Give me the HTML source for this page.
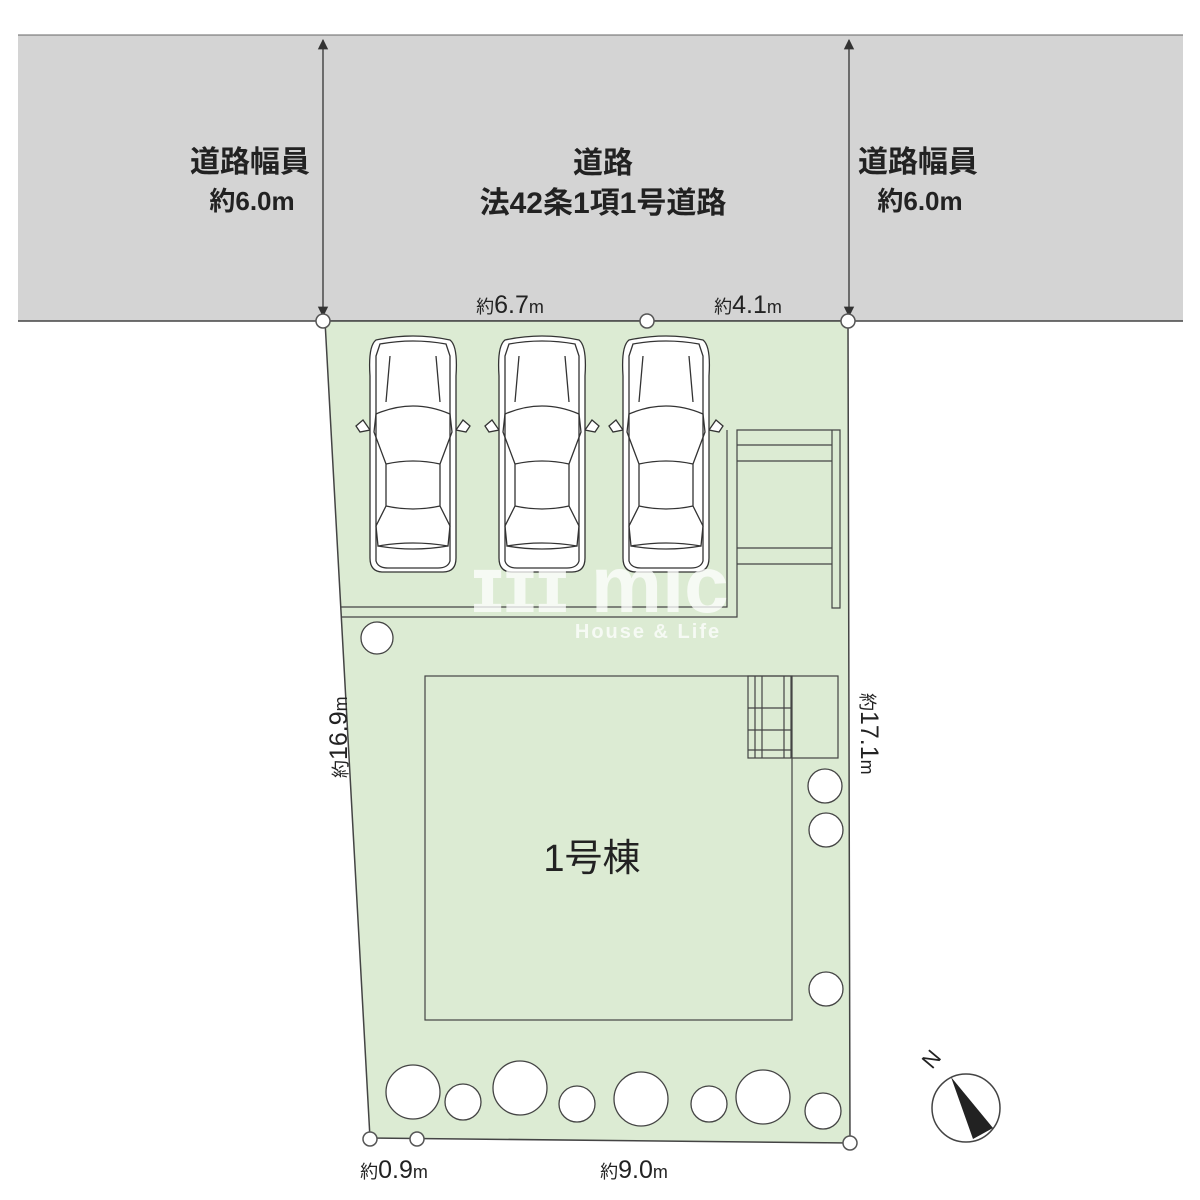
<!DOCTYPE html>
<html><head><meta charset="utf-8"><style>
html,body{margin:0;padding:0;background:#fff;}
svg{display:block;}
text{font-family:"Liberation Sans","Noto Sans CJK JP",sans-serif;fill:#222;}
</style></head><body>
<svg width="1200" height="1200" viewBox="0 0 1200 1200" xmlns="http://www.w3.org/2000/svg">
<defs>
<g id="car" fill="#fff" stroke="#333" stroke-width="1.3">
<path d="M-5,84 L-12,90 L-8,96 L2,94 Z M95,84 L102,90 L98,96 L88,94 Z"/>
<path d="M8,4 Q45,-4 82,4 Q90,10 88,40 L88,222 Q88,236 75,236 L15,236 Q2,236 2,222 L2,40 Q0,10 8,4 Z"/>
<path d="M12,8 Q45,2 78,8 L82,20 L82,225 Q80,232 70,232 L20,232 Q10,232 8,225 L8,20 Z" fill="none"/>
<path d="M22,20 L18,66 M68,20 L72,66" fill="none"/>
<path d="M8,78 Q45,62 82,78 L84,96 L72,128 L72,170 L82,190 L80,210 Q45,204 10,210 L8,190 L18,170 L18,128 L6,96 Z" fill="none"/>
<path d="M18,128 Q45,122 72,128 M18,170 Q45,176 72,170 M10,210 Q45,216 80,210" fill="none"/>
</g>
<marker id="ar" viewBox="0 0 10 10" refX="9" refY="5" markerWidth="8" markerHeight="10" orient="auto-start-reverse"><path d="M0,0 L10,5 L0,10 Z" fill="#333"/></marker>
</defs>
<rect x="18" y="35" width="1165" height="286" fill="#d4d4d4"/>
<line x1="18" y1="35" x2="1183" y2="35" stroke="#666" stroke-width="1"/>
<line x1="18" y1="321" x2="1183" y2="321" stroke="#444" stroke-width="1.5"/>
<line x1="323" y1="40" x2="323" y2="316" stroke="#333" stroke-width="1.3" marker-start="url(#ar)" marker-end="url(#ar)"/>
<line x1="849" y1="40" x2="849" y2="316" stroke="#333" stroke-width="1.3" marker-start="url(#ar)" marker-end="url(#ar)"/>
<g font-weight="bold">
<text x="250" y="172" font-size="30" text-anchor="middle">道路幅員</text>
<text x="252" y="210" font-size="26" text-anchor="middle">約6.0m</text>
<text x="603" y="173" font-size="30" text-anchor="middle">道路</text>
<text x="603" y="213" font-size="30" text-anchor="middle">法42条1項1号道路</text>
<text x="918" y="172" font-size="30" text-anchor="middle">道路幅員</text>
<text x="920" y="210" font-size="26" text-anchor="middle">約6.0m</text>
</g>
<text x="510" y="313" font-size="25" text-anchor="middle"><tspan font-size="18">約</tspan>6.7<tspan font-size="18">m</tspan></text>
<text x="748" y="313" font-size="25" text-anchor="middle"><tspan font-size="18">約</tspan>4.1<tspan font-size="18">m</tspan></text>
<polygon points="325,321 848,321 850,1143 370,1138" fill="#dcebd3" stroke="#444" stroke-width="1.5"/>
<use href="#car" x="368" y="336"/>
<use href="#car" x="497" y="336"/>
<use href="#car" x="621" y="336"/>
<g stroke="#444" stroke-width="1.2" fill="none">
<path d="M341,607 H727 V430"/>
<path d="M341,617 H737 V430 H840 V608 H832 V430"/>
<path d="M737,445 H832 M737,461 H832 M737,548 H832 M737,564 H832"/>
<rect x="425" y="676" width="367" height="344"/>
<rect x="748" y="676" width="90" height="82"/>
<path d="M755,676 V758 M762,676 V758 M784,676 V758 M791,676 V758 M748,708 H791 M748,730 H791 M748,750 H791"/>
</g>
<text x="600" y="612" font-size="80" font-weight="bold" opacity="0.75" text-anchor="middle" style="fill:#fff">ɪɪɪ mic</text>
<text x="648" y="638" font-size="20" font-weight="bold" opacity="0.75" text-anchor="middle" style="fill:#fff" letter-spacing="2">House &amp; Life</text>
<text x="592" y="871" font-size="38" text-anchor="middle">1号棟</text>
<g fill="#fff" stroke="#444" stroke-width="1.3">
<circle cx="377" cy="638" r="16"/><circle cx="825" cy="786" r="17"/><circle cx="826" cy="830" r="17"/><circle cx="826" cy="989" r="17"/>
<circle cx="413" cy="1092" r="27"/><circle cx="463" cy="1102" r="18"/><circle cx="520" cy="1088" r="27"/><circle cx="577" cy="1104" r="18"/>
<circle cx="641" cy="1099" r="27"/><circle cx="709" cy="1104" r="18"/><circle cx="763" cy="1097" r="27"/><circle cx="823" cy="1111" r="18"/>
</g>
<g fill="#fff" stroke="#555" stroke-width="1.5">
<circle cx="323" cy="321" r="7"/><circle cx="647" cy="321" r="7"/><circle cx="848" cy="321" r="7"/>
<circle cx="370" cy="1139" r="7"/><circle cx="417" cy="1139" r="7"/><circle cx="850" cy="1143" r="7"/>
</g>
<text x="0" y="0" font-size="25" transform="translate(347,778) rotate(-90)"><tspan font-size="18">約</tspan>16.9<tspan font-size="18">m</tspan></text>
<text x="0" y="0" font-size="25" transform="translate(861,693) rotate(90)"><tspan font-size="18">約</tspan>17.1<tspan font-size="18">m</tspan></text>
<text x="394" y="1178" font-size="25" text-anchor="middle"><tspan font-size="18">約</tspan>0.9<tspan font-size="18">m</tspan></text>
<text x="634" y="1178" font-size="25" text-anchor="middle"><tspan font-size="18">約</tspan>9.0<tspan font-size="18">m</tspan></text>
<circle cx="966" cy="1108" r="34" fill="#fff" stroke="#444" stroke-width="1.5"/>
<polygon points="951,1077 993,1128 973,1139" fill="#222"/>
<text x="0" y="0" font-size="22" transform="translate(932,1070) rotate(-50)">N</text>
</svg>
</body></html>
